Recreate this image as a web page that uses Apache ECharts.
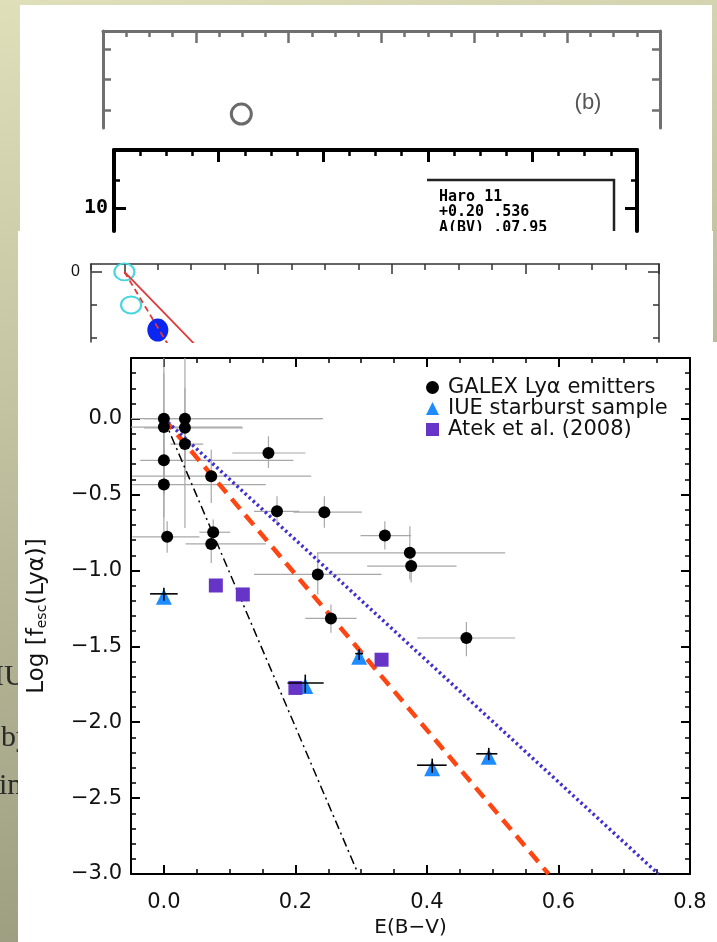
<!DOCTYPE html>
<html>
<head>
<meta charset="utf-8">
<title>Lya escape fraction vs E(B-V)</title>
<script src="https://cdn.jsdelivr.net/npm/echarts@6/dist/echarts.min.js"></script>
<style>
  html, body { margin: 0; padding: 0; }
  #main { width: 717px; height: 942px; }
</style>
</head>
<body>
<div id="main"></div>
<script>
// GALEX Lya emitters [E(B-V), log fesc]
var galexPoints = [
  [0.000, 0.000], [0.000, -0.055], [0.032, 0.000], [0.032, -0.060], [0.032, -0.167],
  [0.000, -0.274], [0.000, -0.434], [0.159, -0.226], [0.072, -0.379], [0.172, -0.610],
  [0.244, -0.616], [0.005, -0.778], [0.075, -0.748], [0.072, -0.825], [0.336, -0.770],
  [0.374, -0.884], [0.376, -0.971], [0.234, -1.026], [0.254, -1.316], [0.460, -1.445]
];
// error bars [x low, x high, y low, y high]
var galexErrors = [
  [-0.05, 0.242, -0.75, 0.40], [-0.05, 0.119, -0.50, 0.30], [-0.03, 0.240, -0.72, 0.40],
  [-0.03, 0.120, -0.30, 0.20], [0.010, 0.060, -0.40, 0.05], [-0.036, 0.197, -0.50, -0.05],
  [-0.048, 0.155, -0.65, -0.20], [0.104, 0.215, -0.325, -0.116], [-0.048, 0.224, -0.555, -0.204],
  [0.137, 0.206, -0.697, -0.511], [0.197, 0.301, -0.719, -0.511], [-0.048, 0.054, -0.884, -0.675],
  [0.054, 0.101, -0.840, -0.664], [0.033, 0.155, -0.950, -0.774], [0.299, 0.376, -0.862, -0.675],
  [0.233, 0.519, -1.060, -0.708], [0.309, 0.445, -1.080, -0.884], [0.137, 0.331, -1.158, -0.884],
  [0.215, 0.293, -1.410, -1.224], [0.385, 0.534, -1.566, -1.340]
];
// IUE starburst sample
var iuePoints = [[0.000, -1.154], [0.215, -1.741], [0.297, -1.548], [0.408, -2.283], [0.494, -2.208]];
var iueErrors = [
  [-0.021, 0.021, -1.200, -1.114], [0.188, 0.243, -1.807, -1.686], [0.291, 0.303, -1.590, -1.520],
  [0.385, 0.430, -2.333, -2.240], [0.475, 0.507, -2.250, -2.169]
];
// Atek et al. (2008)
var atekPoints = [[0.079, -1.099], [0.120, -1.158], [0.200, -1.774], [0.331, -1.588]];
// model lines
var redDashLine = [[0, 0], [0.585, -3.0]];
var blueDotLine = [[0, 0], [0.752, -3.0]];
var blackDashDotLine = [[0, 0], [0.2955, -3.0]];

var xMajor = [0, 0.2, 0.4, 0.6, 0.8];
var yMajor = [-3.0, -2.5, -2.0, -1.5, -1.0, -0.5, 0.0];

// bits of the figures behind the main one
var panelBCircle = [[1.49, 0.46]];
var panelBYTicks = [0.6, 1.6, 2.6];
var panelCYMajor = [10];
var panelCYMinor = [11];
var panelDXMajor = [0, 1, 2, 3, 4];
var panelDYMajor = [0];
var panelDYMinor = [-1, -2];
var panelDOpen = [[0, 0], [0.05, -1]];
var panelDFilled = [[0.25, -1.76]];
var panelDSolid = [[0, 0], [0.6, -2.5]];
var panelDDashed = [[0, 0], [0.35, -2.36]];

var FONT = 'DejaVu Sans';

function makeAxis(gridIndex, position, min, max, color, lineWidth, ticks, tickLen, tickWidth) {
  var ax = {
    type: 'value', gridIndex: gridIndex, position: position, min: min, max: max,
    splitLine: { show: false },
    axisLine: { show: lineWidth > 0, onZero: false, lineStyle: { color: color, width: lineWidth || 1 } },
    axisTick: { show: true, inside: true, length: tickLen, lineStyle: { color: color, width: tickWidth } },
    axisLabel: { show: false }
  };
  if (typeof ticks === 'number') {
    ax.interval = ticks;
  } else {
    ax.axisTick.customValues = ticks;
  }
  return ax;
}

function errorBars(color, width) {
  return function (params, api) {
    var xl = api.coord([api.value(2), api.value(1)]);
    var xh = api.coord([api.value(3), api.value(1)]);
    var yl = api.coord([api.value(0), api.value(4)]);
    var yh = api.coord([api.value(0), api.value(5)]);
    var style = { stroke: color, lineWidth: width };
    return {
      type: 'group',
      children: [
        { type: 'line', shape: { x1: xl[0], y1: xl[1], x2: xh[0], y2: xh[1] }, style: style },
        { type: 'line', shape: { x1: yl[0], y1: yl[1], x2: yh[0], y2: yh[1] }, style: style }
      ]
    };
  };
}

function withErrors(points, errors) {
  return points.map(function (p, i) { return p.concat(errors[i]); });
}

function minusFmt(v) {
  return (v < 0 ? '\u2212' : '') + Math.abs(v).toFixed(1);
}

// main plot axes
var xMain = makeAxis(0, 'bottom', -0.05, 0.8, '#000', 2, xMajor, 9, 2);
xMain.axisLabel = {
  show: true, customValues: xMajor, formatter: function (v) { return v.toFixed(1); },
  fontSize: 21, fontFamily: FONT, color: '#111', margin: 18
};
xMain.name = 'E(B\u2212V)';
xMain.nameLocation = 'middle';
xMain.nameGap = 40;
xMain.nameTextStyle = { fontSize: 20, fontFamily: FONT, color: '#111' };

var yMain = makeAxis(0, 'left', -3.0, 0.4, '#000', 2, 0.5, 9, 2);
yMain.axisLabel = {
  show: true, customValues: yMajor, formatter: minusFmt,
  fontSize: 21, fontFamily: FONT, color: '#111', margin: 9
};
yMain.name = 'Log [f{s|esc}(Ly\u03b1)]';
yMain.nameLocation = 'middle';
yMain.nameGap = 82;
yMain.nameTextStyle = {
  fontSize: 23, fontFamily: FONT, color: '#111',
  rich: { s: { fontSize: 14, fontFamily: FONT, color: '#111', verticalAlign: 'bottom', lineHeight: 12 } }
};

var xAxes = [
  xMain,
  makeAxis(0, 'bottom', -0.05, 0.8, '#000', 0, 0.05, 5, 1.5),
  makeAxis(0, 'top', -0.05, 0.8, '#000', 2, xMajor, 9, 2),
  makeAxis(0, 'top', -0.05, 0.8, '#000', 0, 0.05, 5, 1.5),
  // panel (b)
  makeAxis(1, 'top', 0, 6, '#707070', 3, 1, 12, 2.5),
  makeAxis(1, 'top', 0, 6, '#707070', 0, 0.25, 6, 2.5),
  // Haro 11 panel
  makeAxis(2, 'top', 0, 5, '#000', 4, 1, 12, 3),
  makeAxis(2, 'top', 0, 5, '#000', 0, 0.25, 6, 2.5),
  // third panel
  makeAxis(3, 'top', -0.25, 4, '#333', 1.5, panelDXMajor, 10, 1.5),
  makeAxis(3, 'top', -0.25, 4, '#333', 0, 0.25, 6, 1.5)
];

var yCLeft = makeAxis(2, 'left', 9.18, 12.07, '#000', 4, panelCYMajor, 12, 3);
yCLeft.axisLabel = {
  show: true, customValues: panelCYMajor, formatter: function (v) { return String(v); },
  fontSize: 20, fontWeight: 'bold', fontFamily: 'DejaVu Sans Mono', color: '#000', margin: 6
};
var yDLeft = makeAxis(3, 'left', -2.12, 0.24, '#333', 1.5, panelDYMajor, 11, 1.5);
yDLeft.axisLabel = {
  show: true, customValues: panelDYMajor, formatter: function () { return '0'; },
  fontSize: 16, fontFamily: 'Liberation Sans', color: '#111', margin: 11
};

var yAxes = [
  yMain,
  makeAxis(0, 'left', -3.0, 0.4, '#000', 0, 0.1, 5, 1.5),
  makeAxis(0, 'right', -3.0, 0.4, '#000', 2, 0.5, 9, 2),
  makeAxis(0, 'right', -3.0, 0.4, '#000', 0, 0.1, 5, 1.5),
  makeAxis(1, 'left', 0, 3.2, '#707070', 3, panelBYTicks, 8, 2.5),
  makeAxis(1, 'right', 0, 3.2, '#707070', 3, panelBYTicks, 8, 2.5),
  yCLeft,
  makeAxis(2, 'left', 9.18, 12.07, '#000', 0, panelCYMinor, 6, 2.5),
  makeAxis(2, 'right', 9.18, 12.07, '#000', 4, panelCYMajor, 12, 3),
  makeAxis(2, 'right', 9.18, 12.07, '#000', 0, panelCYMinor, 6, 2.5),
  yDLeft,
  makeAxis(3, 'left', -2.12, 0.24, '#333', 0, panelDYMinor, 6, 1.5),
  makeAxis(3, 'right', -2.12, 0.24, '#333', 1.5, panelDYMajor, 11, 1.5),
  makeAxis(3, 'right', -2.12, 0.24, '#333', 0, panelDYMinor, 6, 1.5)
];

var boxFont = 'bold 15px "DejaVu Sans Mono"';

var option = {
  animation: false,
  backgroundColor: '#c8c8a4',
  graphic: [
    {
      type: 'rect', z: -50, shape: { x: 0, y: 0, width: 717, height: 942 },
      style: {
        fill: {
          type: 'linear', x: 0, y: 0, x2: 0.3, y2: 1,
          colorStops: [{ offset: 0, color: '#dfdfba' }, { offset: 1, color: '#9b9b7f' }]
        }
      }
    },
    { type: 'text', z: -45, style: { text: 'IUE', x: -6, y: 677, font: '30px "Liberation Serif"', fill: '#2a2a2a', verticalAlign: 'middle' } },
    { type: 'text', z: -45, style: { text: 'by', x: 1, y: 738, font: '30px "Liberation Serif"', fill: '#2a2a2a', verticalAlign: 'middle' } },
    { type: 'text', z: -45, style: { text: 'in', x: -1, y: 786, font: '30px "Liberation Serif"', fill: '#2a2a2a', verticalAlign: 'middle' } },
    { type: 'rect', z: -40, shape: { x: 20, y: 5, width: 692, height: 226 }, style: { fill: '#fff' } },
    { type: 'text', z: -35, style: { text: '(b)', x: 588, y: 103, font: '22px "Liberation Sans"', fill: '#555', align: 'center', verticalAlign: 'middle' } },
    { type: 'polyline', z: -35, shape: { points: [[427, 180], [614, 180], [614, 232]] }, style: { stroke: '#222', lineWidth: 2.5, fill: null } },
    { type: 'text', z: -35, style: { text: 'Haro 11', x: 439, y: 197, font: boxFont, fill: '#000', verticalAlign: 'middle' } },
    { type: 'text', z: -35, style: { text: '+0.20 .536', x: 439, y: 212, font: boxFont, fill: '#000', verticalAlign: 'middle' } },
    { type: 'text', z: -35, style: { text: 'A(BV) .07.95', x: 439, y: 228, font: boxFont, fill: '#000', verticalAlign: 'middle' } },
    { type: 'rect', z: -30, shape: { x: 18, y: 231, width: 695, height: 111 }, style: { fill: '#fff' } },
    { type: 'rect', z: -25, shape: { x: 18, y: 342, width: 699, height: 600 }, style: { fill: '#fff' } }
  ],
  grid: [
    { left: 131, right: 27, top: 358, bottom: 68, outerBoundsMode: 'none' },
    { left: 103, top: 31, width: 557, height: 97, outerBoundsMode: 'none' },
    { left: 114, top: 150, width: 523, height: 81, outerBoundsMode: 'none' },
    { left: 91, top: 264, width: 568, height: 78, outerBoundsMode: 'none' }
  ],
  xAxis: xAxes,
  yAxis: yAxes,
  legend: {
    orient: 'vertical', left: 421, top: 372, itemWidth: 13, itemHeight: 13, itemGap: 0,
    data: ['GALEX Ly\u03b1 emitters', 'IUE starburst sample', 'Atek et al. (2008)'],
    textStyle: { fontSize: 21, fontFamily: FONT, color: '#111', lineHeight: 20, padding: [0, 0, 0, 4] }
  },
  series: [
    {
      name: 'galex errors', type: 'custom', xAxisIndex: 0, yAxisIndex: 0, z: 1, silent: true, clip: true,
      renderItem: errorBars('#a8a8a8', 1.2), encode: { x: 0, y: 1 },
      data: withErrors(galexPoints, galexErrors)
    },
    {
      name: 'dust red', type: 'line', xAxisIndex: 0, yAxisIndex: 0, z: 2, symbol: 'none', silent: true,
      lineStyle: { color: '#ff4512', width: 4.5, type: [13, 8] }, data: redDashLine
    },
    {
      name: 'dust blue', type: 'line', xAxisIndex: 0, yAxisIndex: 0, z: 2, symbol: 'none', silent: true,
      lineStyle: { color: '#4030d0', width: 3.5, type: [2.5, 3] }, data: blueDotLine
    },
    {
      name: 'dust black', type: 'line', xAxisIndex: 0, yAxisIndex: 0, z: 2, symbol: 'none', silent: true,
      lineStyle: { color: '#000', width: 1.5, type: [9, 4, 2, 4] }, data: blackDashDotLine
    },
    {
      name: 'GALEX Ly\u03b1 emitters', type: 'scatter', xAxisIndex: 0, yAxisIndex: 0, z: 3,
      symbol: 'circle', symbolSize: 12, itemStyle: { color: '#000', opacity: 1 }, data: galexPoints
    },
    {
      name: 'IUE starburst sample', type: 'scatter', xAxisIndex: 0, yAxisIndex: 0, z: 3,
      symbol: 'triangle', symbolSize: 16, symbolOffset: [0, 3], itemStyle: { color: '#1e8cff', opacity: 1 }, data: iuePoints
    },
    {
      name: 'iue errors', type: 'custom', xAxisIndex: 0, yAxisIndex: 0, z: 4, silent: true, clip: true,
      renderItem: errorBars('#000', 1.6), encode: { x: 0, y: 1 },
      data: withErrors(iuePoints, iueErrors)
    },
    {
      name: 'Atek et al. (2008)', type: 'scatter', xAxisIndex: 0, yAxisIndex: 0, z: 3,
      symbol: 'rect', symbolSize: 14, itemStyle: { color: '#6634c6', opacity: 1 }, data: atekPoints
    },
    // panel (b)
    {
      name: 'panel b', type: 'scatter', xAxisIndex: 4, yAxisIndex: 4, symbol: 'circle', symbolSize: 20,
      itemStyle: { color: 'rgba(0,0,0,0)', borderColor: '#6a6a6a', borderWidth: 3, opacity: 1 }, data: panelBCircle
    },
    // third panel
    {
      name: 'panel d solid', type: 'line', xAxisIndex: 8, yAxisIndex: 10, symbol: 'none', silent: true,
      lineStyle: { color: '#e03a3a', width: 1.8 }, data: panelDSolid
    },
    {
      name: 'panel d dashed', type: 'line', xAxisIndex: 8, yAxisIndex: 10, symbol: 'none', silent: true,
      lineStyle: { color: '#e03a3a', width: 1.8, type: [6, 4] }, data: panelDDashed
    },
    {
      name: 'panel d open', type: 'scatter', xAxisIndex: 8, yAxisIndex: 10, symbol: 'circle', symbolSize: [20, 17],
      itemStyle: { color: 'rgba(0,0,0,0)', borderColor: '#46d6e0', borderWidth: 2, opacity: 1 }, data: panelDOpen
    },
    {
      name: 'panel d filled', type: 'scatter', xAxisIndex: 8, yAxisIndex: 10, symbol: 'circle', symbolSize: [21, 23],
      itemStyle: { color: '#0a26f0', opacity: 1 }, data: panelDFilled
    }
  ]
};

var chart = echarts.init(document.getElementById('main'));
chart.setOption(option);
</script>
</body>
</html>
